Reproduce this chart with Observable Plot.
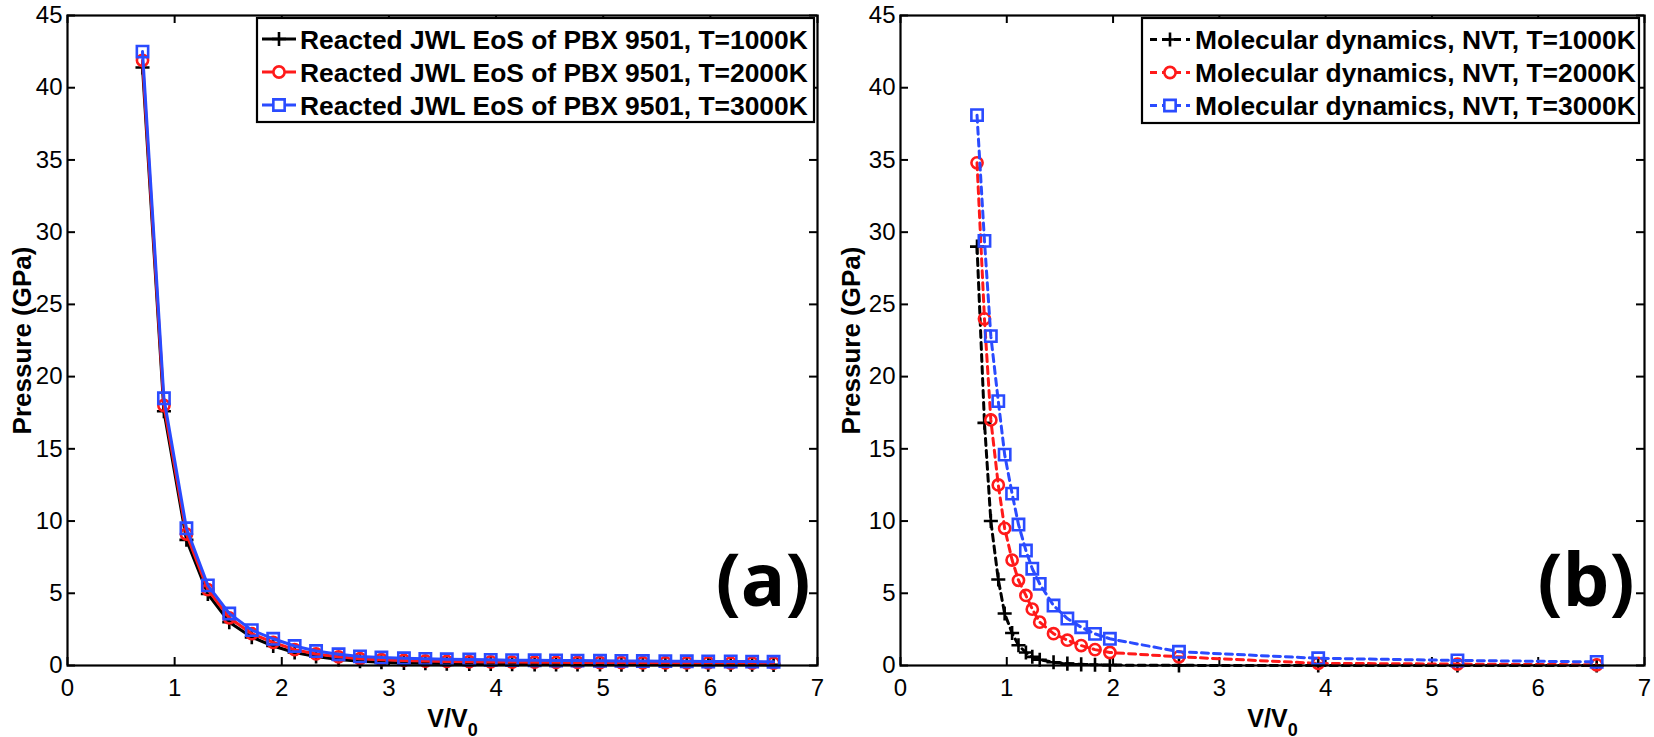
<!DOCTYPE html>
<html>
<head>
<meta charset="utf-8">
<script src="https://cdn.jsdelivr.net/npm/d3@7"></script>
<script src="https://cdn.jsdelivr.net/npm/@observablehq/plot@0.6"></script>
<style>
  html, body { margin: 0; padding: 0; background: white; }
  #wrap { position: relative; width: 1654px; height: 737px; display: flex; }
  #legend { position: absolute; left: 0; top: 0; pointer-events: none; }
</style>
</head>
<body>
<div id="wrap"></div>
<script>
// ---------- data ----------
const xTicks = [0, 1, 2, 3, 4, 5, 6, 7];
const yTicks = [0, 5, 10, 15, 20, 25, 30, 35, 40, 45];

// Panel (a): reacted JWL EoS of PBX 9501
const vJWL = [0.70, 0.90, 1.11, 1.31, 1.51, 1.72, 1.92, 2.12, 2.32, 2.53, 2.73, 2.93, 3.14, 3.34, 3.54,
              3.75, 3.95, 4.15, 4.36, 4.56, 4.76, 4.97, 5.17, 5.37, 5.58, 5.78, 5.98, 6.19, 6.39, 6.59];
const jwl1000 = [41.4, 17.6, 8.7, 4.95, 3.0, 1.95, 1.35, 0.9, 0.62, 0.42, 0.3, 0.23, 0.18, 0.15, 0.13,
                 0.11, 0.1, 0.09, 0.08, 0.08, 0.07, 0.07, 0.06, 0.06, 0.06, 0.05, 0.05, 0.05, 0.05, 0.04];
const jwl2000 = [41.9, 18.0, 9.1, 5.25, 3.3, 2.2, 1.6, 1.1, 0.8, 0.6, 0.47, 0.4, 0.35, 0.31, 0.28,
                 0.26, 0.25, 0.24, 0.23, 0.22, 0.21, 0.2, 0.2, 0.19, 0.19, 0.18, 0.18, 0.17, 0.17, 0.17];
const jwl3000 = [42.5, 18.5, 9.5, 5.55, 3.6, 2.45, 1.85, 1.35, 1.0, 0.78, 0.63, 0.55, 0.5, 0.46, 0.43,
                 0.41, 0.39, 0.37, 0.36, 0.35, 0.34, 0.33, 0.32, 0.31, 0.3, 0.29, 0.28, 0.28, 0.27, 0.26];

// Panel (b): molecular dynamics, NVT
const vMD = [0.72, 0.79, 0.85, 0.92, 0.98, 1.05, 1.11, 1.18, 1.24, 1.31, 1.44, 1.57, 1.70, 1.83, 1.97,
             2.62, 3.93, 5.24, 6.55];
const md1000 = [29.0, 16.8, 10.0, 5.95, 3.6, 2.25, 1.4, 0.9, 0.6, 0.4, 0.22, 0.13, 0.08, 0.05, 0.03,
                0.01, 0.0, 0.0, 0.0];
const md2000 = [34.8, 24.0, 17.0, 12.5, 9.5, 7.3, 5.9, 4.85, 3.9, 3.0, 2.2, 1.75, 1.38, 1.1, 0.9,
                0.6, 0.15, 0.1, 0.05];
const md3000 = [38.1, 29.4, 22.8, 18.3, 14.6, 11.9, 9.76, 7.96, 6.7, 5.65, 4.15, 3.25, 2.65, 2.19, 1.85,
                0.95, 0.5, 0.35, 0.25];

const temps = ["1000K", "2000K", "3000K"];
const colors = ["#000000", "#ff1a1a", "#2a4bff"];
const symbols = ["plus", "circle", "square2"];
const radii = [4.6, 5.6, 7.2];

const legendA = temps.map(t => `Reacted JWL EoS of PBX 9501, T=${t}`);
const legendB = temps.map(t => `Molecular dynamics, NVT, T=${t}`);

// ---------- build tables ----------
function table(xs, series) {
  return series.map((ys, k) => xs.map((x, i) => ({x, y: ys[i], k})));
}
const dataA = table(vJWL, [jwl1000, jwl2000, jwl3000]);
const dataB = table(vMD, [md1000, md2000, md3000]);

const W = 827, H = 737, MT = 15, MB = 72;
const FONT = "'Liberation Sans', Arial, Helvetica, sans-serif";

function panel({series, dashed, marginLeft, marginRight, ylabDx, xlabDx, tag, tagDx}) {
  const frameW = W - marginLeft - marginRight;
  const frameH = H - MT - MB;
  const tk = 8;
  const marks = [
    Plot.axisX({ticks: xTicks, tickFormat: "d", tickSize: 0, tickPadding: 13, label: null, fontSize: 24}),
    Plot.axisY({ticks: yTicks, tickFormat: "d", tickSize: 0, tickPadding: 5, label: null, fontSize: 24}),
    Plot.ruleX(xTicks, {x: d => d, insetTop: frameH - tk, stroke: "black", strokeWidth: 2}),
    Plot.ruleX(xTicks, {x: d => d, insetBottom: frameH - tk, stroke: "black", strokeWidth: 2}),
    Plot.ruleY(yTicks, {y: d => d, insetRight: frameW - tk, stroke: "black", strokeWidth: 2}),
    Plot.ruleY(yTicks, {y: d => d, insetLeft: frameW - tk, stroke: "black", strokeWidth: 2}),
  ];
  series.forEach((rows, k) => {
    marks.push(Plot.line(rows, {
      x: "x", y: "y", stroke: colors[k], strokeWidth: 3,
      strokeDasharray: dashed ? "7,5" : null
    }));
    marks.push(Plot.dot(rows, {
      x: "x", y: "y", symbol: symbols[k], r: radii[k],
      stroke: colors[k], strokeWidth: 2.6, fill: k === 0 ? colors[k] : "none"
    }));
  });
  marks.push(
    Plot.frame({stroke: "black", strokeWidth: 2.2}),
    Plot.text(["Pressure (GPa)"], {frameAnchor: "left", textAnchor: "middle", lineAnchor: "middle",
      rotate: -90, dx: ylabDx, fontWeight: "bold", fontSize: 26, fill: "black"}),
    Plot.text(["V/V"], {frameAnchor: "bottom", textAnchor: "middle", lineAnchor: "top", dx: xlabDx, dy: 44,
      fontWeight: "bold", fontSize: 25, fill: "black"}),
    Plot.text([tag], {frameAnchor: "bottom-right", textAnchor: "end", lineAnchor: "bottom",
      dx: tagDx, dy: -60, fontWeight: "bold", fontSize: 74, fontFamily: "'Open Sans', sans-serif", fill: "black"})
  );
  const svg = Plot.plot({
    width: W, height: H, marginTop: MT, marginBottom: MB, marginLeft, marginRight,
    style: {fontFamily: FONT, fontSize: "24px", color: "black", background: "white", overflow: "visible"},
    x: {domain: [0, 7]},
    y: {domain: [0, 45]},
    marks
  });
  d3.select(svg).selectAll("text").filter(function () { return this.textContent === "V/V"; })
    .append("tspan").attr("font-size", 18).attr("dy", 9).text("0");
  return svg;
}

const wrap = document.getElementById("wrap");
wrap.appendChild(panel({series: dataA, dashed: false, marginLeft: 67, marginRight: 10,
  ylabDx: -45, xlabDx: 10, tag: "(a)", tagDx: -7}));
wrap.appendChild(panel({series: dataB, dashed: true, marginLeft: 73, marginRight: 10,
  ylabDx: -49, xlabDx: 0, tag: "(b)", tagDx: -10}));

// ---------- legends ----------
const lg = d3.select(wrap).append("svg").attr("id", "legend")
  .attr("width", 1654).attr("height", 737);

function legend({left, top, right, bottom, rows, x0, x1, xm, xt, labels, dashed}) {
  lg.append("rect").attr("x", left).attr("y", top).attr("width", right - left).attr("height", bottom - top)
    .attr("fill", "white").attr("stroke", "black").attr("stroke-width", 2.2);
  labels.forEach((label, k) => {
    const y = rows[k];
    lg.append("line").attr("x1", x0).attr("x2", x1).attr("y1", y).attr("y2", y)
      .attr("stroke", colors[k]).attr("stroke-width", 3)
      .attr("stroke-dasharray", dashed ? "7,5" : null);
    const sym = {plus: d3.symbolPlus, circle: d3.symbolCircle, square2: d3.symbolSquare2}[symbols[k]];
    lg.append("path").attr("transform", `translate(${xm},${y})`)
      .attr("d", d3.symbol(sym, Math.PI * radii[k] * radii[k])())
      .attr("fill", k === 0 ? colors[k] : "white").attr("stroke", colors[k]).attr("stroke-width", 2.6);
    lg.append("text").attr("x", xt).attr("y", y).attr("dy", "0.36em")
      .attr("font-family", FONT).attr("font-weight", "bold").attr("font-size", 26.4)
      .attr("fill", "black").text(label);
  });
}
legend({left: 257, top: 18, right: 814, bottom: 122, rows: [39, 72, 105], x0: 262, x1: 296, xm: 279, xt: 300,
        labels: legendA, dashed: false});
legend({left: 1142, top: 18, right: 1639, bottom: 123, rows: [39.5, 72.5, 105.5], x0: 1150, x1: 1190, xm: 1170, xt: 1195,
        labels: legendB, dashed: true});
</script>
</body>
</html>
